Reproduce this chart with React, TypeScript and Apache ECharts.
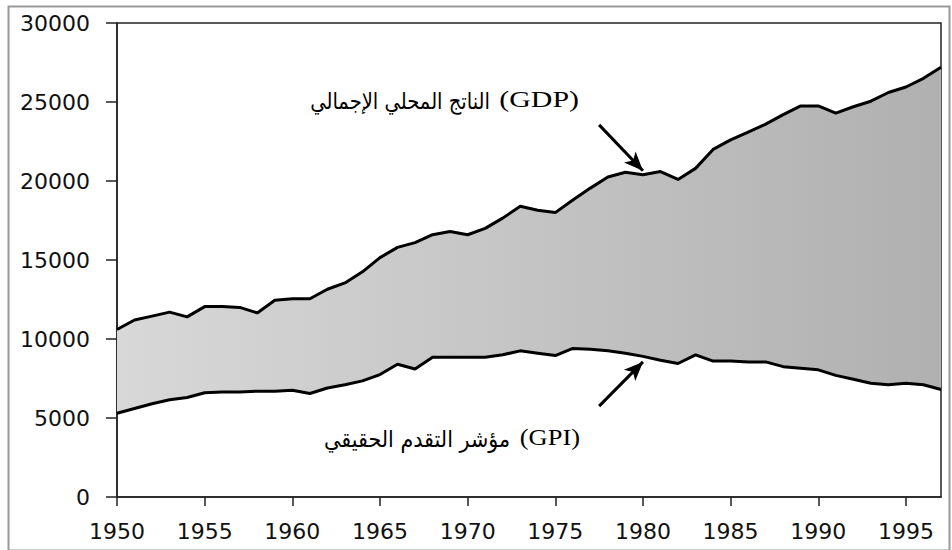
import React, { useEffect, useRef } from "react";
import * as echarts from "echarts";

const years = [
  1950, 1951, 1952, 1953, 1954, 1955, 1956, 1957, 1958, 1959,
  1960, 1961, 1962, 1963, 1964, 1965, 1966, 1967, 1968, 1969,
  1970, 1971, 1972, 1973, 1974, 1975, 1976, 1977, 1978, 1979,
  1980, 1981, 1982, 1983, 1984, 1985, 1986, 1987, 1988, 1989,
  1990, 1991, 1992, 1993, 1994, 1995, 1996, 1997,
];

const gdp = [
  10600, 11200, 11450, 11700, 11400, 12050, 12050, 12000, 11650, 12450,
  12550, 12550, 13150, 13550, 14250, 15150, 15800, 16100, 16600, 16800,
  16600, 17000, 17650, 18400, 18150, 18000, 18800, 19550, 20250, 20550,
  20400, 20600, 20100, 20800, 22000, 22600, 23100, 23600, 24200, 24750,
  24750, 24300, 24700, 25050, 25600, 25950, 26500, 27200,
];

const gpi = [
  5300, 5600, 5900, 6150, 6300, 6600, 6650, 6650, 6700, 6700,
  6750, 6550, 6900, 7100, 7350, 7750, 8400, 8100, 8850, 8850,
  8850, 8850, 9000, 9250, 9100, 8950, 9400, 9350, 9250, 9100,
  8900, 8650, 8450, 9000, 8600, 8600, 8550, 8550, 8250, 8150,
  8050, 7700, 7450, 7200, 7100, 7200, 7100, 6800,
];

const xTicks = [1950, 1955, 1960, 1965, 1970, 1975, 1980, 1985, 1990, 1995];
const yTicks = [0, 5000, 10000, 15000, 20000, 25000, 30000];

const gdpArabic = "الناتج المحلي الإجمالي";
const gdpLatin = "(GDP)";
const gpiArabic = "مؤشر التقدم الحقيقي";
const gpiLatin = "(GPI)";

export default function App() {
  const ref = useRef<HTMLDivElement>(null);

  useEffect(() => {
    if (!ref.current) return;
    const chart = echarts.init(ref.current, undefined, { renderer: "svg" });

    const gpiData = years.map((y, i) => [y, gpi[i]]);
    const gdpData = years.map((y, i) => [y, gdp[i]]);

    const tickFont = {
      fontFamily: "DejaVu Sans",
      fontSize: 22,
      color: "#111",
      formatter: (v: number) => String(v),
    };

    const serifFont = '"Liberation Serif", "DejaVu Serif", serif';
    const arabicFont = '"DejaVu Sans", sans-serif';

    chart.setOption({
      animation: false,
      backgroundColor: "#fff",
      grid: {
        left: 117,
        top: 23,
        width: 824,
        bottom: 53,
        show: true,
        borderColor: "#222",
        borderWidth: 1.5,
        backgroundColor: "transparent",
      },
      xAxis: {
        type: "value",
        min: 1950,
        max: 1997,
        interval: 5,
        axisLine: { show: true, lineStyle: { color: "#222", width: 1.5 } },
        axisTick: {
          show: true,
          length: 9,
          customValues: xTicks,
          lineStyle: { color: "#222", width: 1.5 },
        },
        axisLabel: {
          ...tickFont,
          margin: 23,
          customValues: xTicks,
        },
        splitLine: { show: false },
      },
      yAxis: {
        type: "value",
        min: 0,
        max: 30000,
        interval: 5000,
        axisLine: { show: true, lineStyle: { color: "#222", width: 1.5 } },
        axisTick: {
          show: true,
          length: 11,
          customValues: yTicks,
          lineStyle: { color: "#222", width: 1.5 },
        },
        axisLabel: {
          ...tickFont,
          margin: 27,
          customValues: yTicks,
        },
        splitLine: { show: false },
      },
      series: [
        {
          name: "band",
          type: "custom",
          z: 1,
          silent: true,
          data: [[1950, 0]],
          renderItem: (_params: any, api: any) => {
            const top = years.map((y, i) => api.coord([y, gdp[i]]));
            const bottom = years.map((y, i) => api.coord([y, gpi[i]])).reverse();
            return {
              type: "polygon",
              shape: { points: top.concat(bottom) },
              style: {
                fill: new echarts.graphic.LinearGradient(0, 0, 1, 0, [
                  { offset: 0, color: "#d8d8d8" },
                  { offset: 1, color: "#b0b0b0" },
                ]),
                stroke: "none",
              },
            };
          },
        },
        {
          name: "GPI",
          type: "line",
          data: gpiData,
          symbol: "none",
          z: 4,
          lineStyle: { color: "#000", width: 3 },
          markLine: {
            silent: true,
            symbol: ["none", "arrow"],
            symbolSize: [12, 19],
            label: { show: false },
            lineStyle: { color: "#000", width: 3, type: "solid" },
            data: [
              [
                { coord: [1977.5, 5750] },
                { coord: [1980.0, 8550] },
              ],
            ],
          },
        },
        {
          name: "GDP",
          type: "line",
          data: gdpData,
          symbol: "none",
          z: 4,
          lineStyle: { color: "#000", width: 3 },
          markLine: {
            silent: true,
            symbol: ["none", "arrow"],
            symbolSize: [12, 19],
            label: { show: false },
            lineStyle: { color: "#000", width: 3, type: "solid" },
            data: [
              [
                { coord: [1977.5, 23550] },
                { coord: [1980.0, 20650] },
              ],
            ],
          },
        },
      ],
      graphic: [
        {
          type: "rect",
          left: 6,
          top: 4,
          shape: { width: 941, height: 544 },
          style: { fill: "none", stroke: "#999", lineWidth: 2 },
          silent: true,
        },
        {
          type: "text",
          x: 579,
          y: 99,
          scaleX: 1.3,
          style: {
            text: gdpLatin,
            align: "right",
            verticalAlign: "middle",
            fontFamily: serifFont,
            fontSize: 23,
            fill: "#000",
          },
        },
        {
          type: "text",
          x: 490,
          y: 101,
          scaleX: 0.85,
          style: {
            text: gdpArabic,
            align: "right",
            verticalAlign: "middle",
            fontFamily: arabicFont,
            fontSize: 23,
            fill: "#000",
          },
        },
        {
          type: "text",
          x: 580,
          y: 437,
          scaleX: 1.15,
          style: {
            text: gpiLatin,
            align: "right",
            verticalAlign: "middle",
            fontFamily: serifFont,
            fontSize: 23,
            fill: "#000",
          },
        },
        {
          type: "text",
          x: 510,
          y: 439,
          scaleX: 0.9,
          style: {
            text: gpiArabic,
            align: "right",
            verticalAlign: "middle",
            fontFamily: arabicFont,
            fontSize: 23,
            fill: "#000",
          },
        },
      ],
    });

    return () => chart.dispose();
  }, []);

  return (
    <div
      ref={ref}
      style={{ position: "absolute", left: 0, top: 0, width: 952, height: 550 }}
    />
  );
}
